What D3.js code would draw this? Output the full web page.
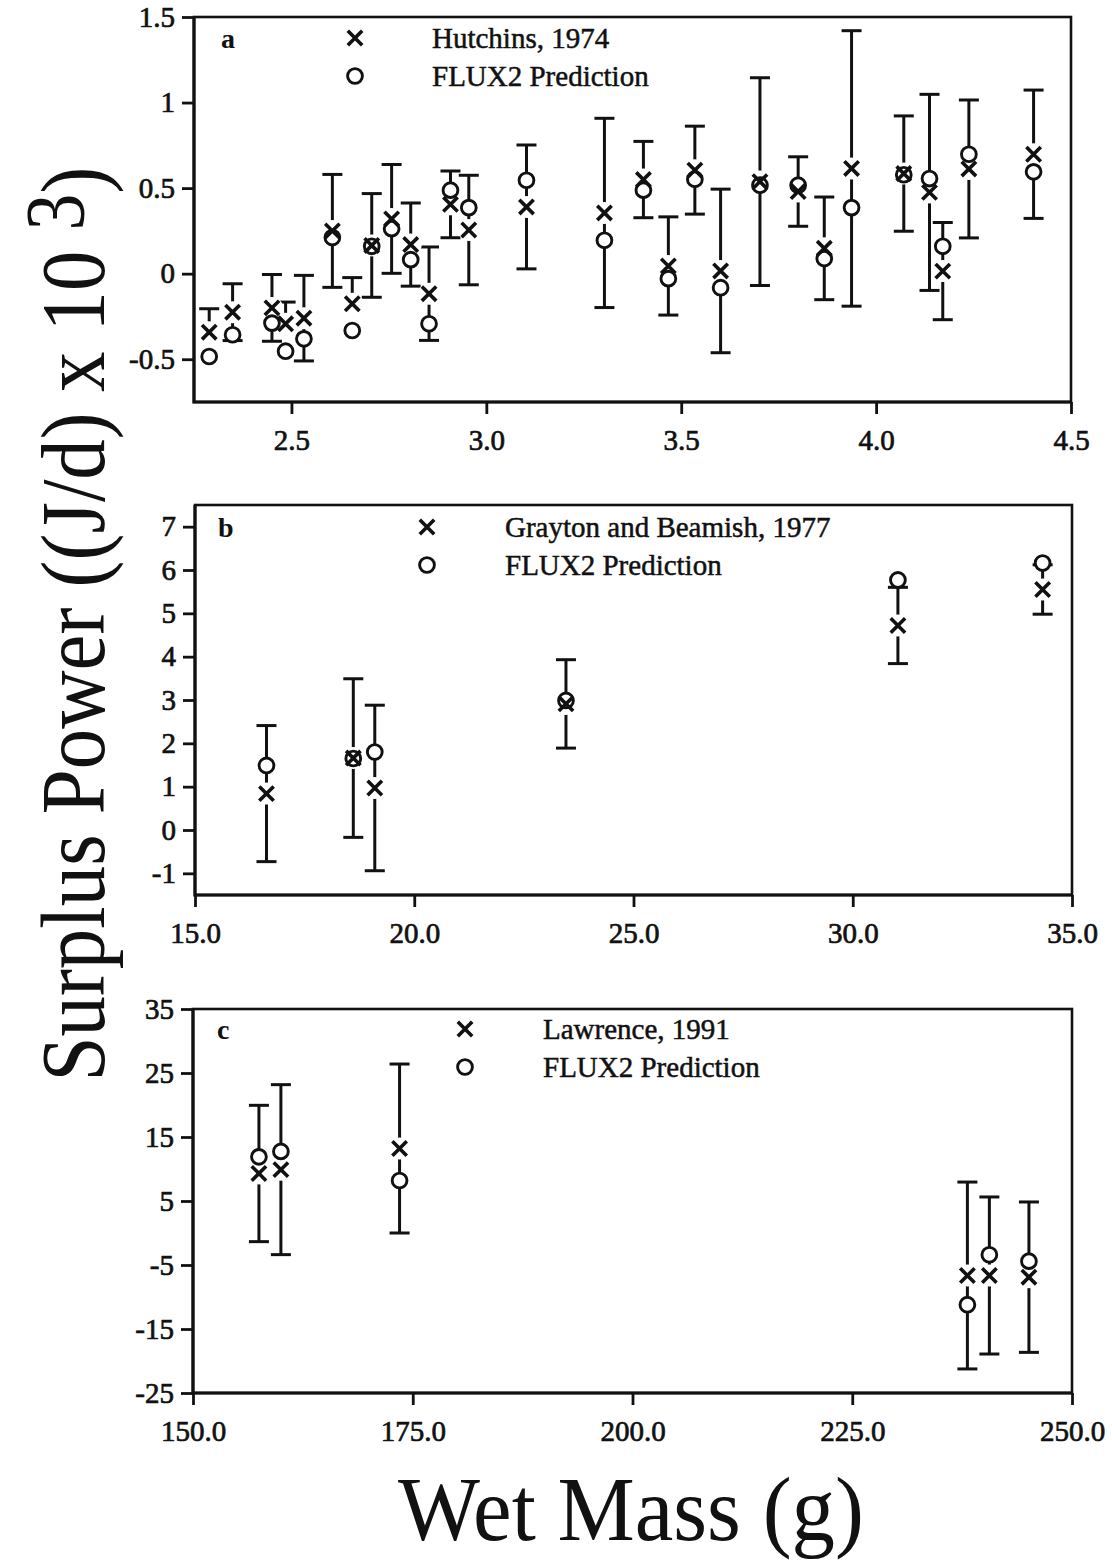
<!DOCTYPE html>
<html>
<head>
<meta charset="utf-8">
<script src="https://cdn.jsdelivr.net/npm/d3@7"></script>
<style>
  html, body { margin: 0; padding: 0; background: #fff; }
  svg { display: block; }
  text { font-family: "Liberation Serif", "Times New Roman", Times, serif; fill: #111; }
</style>
</head>
<body>
<svg id="fig" width="1112" height="1562"></svg>
<script>
// ---- Panel a: Hutchins, 1974 ----
const massA    = [2.289, 2.349, 2.450, 2.485, 2.532, 2.605, 2.656, 2.706, 2.757, 2.806, 2.853, 2.908, 2.955, 3.103,
                  3.303, 3.403, 3.467, 3.535, 3.601, 3.702, 3.800, 3.867, 3.937, 4.071, 4.137, 4.171, 4.238, 4.404];
const obsA     = [-0.342, -0.225, -0.200, -0.293, -0.260, 0.250, -0.176, 0.165, 0.320, 0.170, -0.117, 0.405, 0.255, 0.390,
                  0.355, 0.550, 0.045, 0.605, 0.016, 0.538, 0.480, 0.148, 0.615, 0.585, 0.475, 0.015, 0.612, 0.698];
const predA    = [-0.484, -0.357, -0.289, -0.453, -0.381, 0.211, -0.332, 0.160, 0.263, 0.082, -0.293, 0.488, 0.386, 0.546,
                  0.195, 0.488, -0.029, 0.552, -0.082, 0.517, 0.517, 0.088, 0.386, 0.578, 0.556, 0.160, 0.698, 0.595];
const errUpA   = [0.137, 0.166, 0.195, 0.127, 0.250, 0.330, 0.153, 0.303, 0.318, 0.243, 0.273, 0.195, 0.320, 0.362,
                  0.553, 0.223, 0.287, 0.257, 0.478, 0.607, 0.203, 0.300, 0.805, 0.337, 0.573, 0.284, 0.403, 0.375];
const errDownA = [0, 0.166, 0.195, 0, 0.250, 0.330, 0, 0.303, 0.318, 0.243, 0.273, 0.195, 0.320, 0.362,
                  0.553, 0.223, 0.287, 0.257, 0.478, 0.607, 0.203, 0.300, 0.805, 0.337, 0.573, 0.284, 0.403, 0.375];
const xTicksA  = [2.5, 3.0, 3.5, 4.0, 4.5];
const xLabelsA = ["2.5", "3.0", "3.5", "4.0", "4.5"];
const yTicksA  = [-0.5, 0, 0.5, 1, 1.5];
const yLabelsA = ["-0.5", "0", "0.5", "1", "1.5"];

// ---- Panel b: Grayton and Beamish, 1977 ----
const massB    = [16.63, 18.61, 19.10, 23.46, 31.03, 34.33];
const obsB     = [0.84, 1.66, 0.97, 2.91, 4.72, 5.55];
const predB    = [1.49, 1.65, 1.80, 2.99, 5.77, 6.16];
const errUpB   = [1.57, 1.83, 1.91, 1.02, 0.88, 0.57];
const errDownB = [1.57, 1.83, 1.91, 1.02, 0.88, 0.57];
const xTicksB  = [15, 20, 25, 30, 35];
const xLabelsB = ["15.0", "20.0", "25.0", "30.0", "35.0"];
const yTicksB  = [-1, 0, 1, 2, 3, 4, 5, 6, 7];
const yLabelsB = ["-1", "0", "1", "2", "3", "4", "5", "6", "7"];

// ---- Panel c: Lawrence, 1991 ----
const massC    = [157.5, 160.0, 173.5, 238.1, 240.6, 245.1];
const obsC     = [9.3, 9.9, 13.2, -6.64, -6.64, -6.9];
const predC    = [11.9, 12.75, 8.2, -11.2, -3.4, -4.4];
const errUpC   = [10.65, 13.28, 13.2, 14.6, 12.27, 11.75];
const errDownC = [10.65, 13.28, 13.2, 14.6, 12.27, 11.75];
const xTicksC  = [150, 175, 200, 225, 250];
const xLabelsC = ["150.0", "175.0", "200.0", "225.0", "250.0"];
const yTicksC  = [-25, -15, -5, 5, 15, 25, 35];
const yLabelsC = ["-25", "-15", "-5", "5", "15", "25", "35"];

const seriesNames = ["Hutchins, 1974", "Grayton and Beamish, 1977", "Lawrence, 1991"];
const predictionName = "FLUX2 Prediction";
const panelLetters = ["a", "b", "c"];

const svg = d3.select("#fig");
const INK = "#111";

const panels = [
  { letter: panelLetters[0], name: seriesNames[0], mass: massA, obs: obsA, pred: predA, up: errUpA, down: errDownA,
    xDomain: [2.25, 4.5], yDomain: [-0.75, 1.5], xTicks: xTicksA, xLabels: xLabelsA, yTicks: yTicksA, yLabels: yLabelsA,
    left: 194, right: 1071, top: 17, bottom: 402, legX: 355, legY: 38, textX: 432, letterX: 221 },
  { letter: panelLetters[1], name: seriesNames[1], mass: massB, obs: obsB, pred: predB, up: errUpB, down: errDownB,
    xDomain: [15, 35], yDomain: [-1.5, 7.5], xTicks: xTicksB, xLabels: xLabelsB, yTicks: yTicksB, yLabels: yLabelsB,
    left: 195, right: 1072, top: 505, bottom: 895, legX: 427, legY: 527, textX: 505, letterX: 218 },
  { letter: panelLetters[2], name: seriesNames[2], mass: massC, obs: obsC, pred: predC, up: errUpC, down: errDownC,
    xDomain: [150, 250], yDomain: [-25, 35], xTicks: xTicksC, xLabels: xLabelsC, yTicks: yTicksC, yLabels: yLabelsC,
    left: 193, right: 1072, top: 1009, bottom: 1393, legX: 465, legY: 1029, textX: 543, letterX: 217 }
];

const CAP = 10;      // half width of error-bar caps
const XS = 7.2;      // half size of the cross symbol
const CR = 7.4;      // radius of the circle symbol
const crossPath = `M${-XS},${-XS}L${XS},${XS}M${-XS},${XS}L${XS},${-XS}`;

function drawPanel(p) {
  const x = d3.scaleLinear().domain(p.xDomain).range([p.left, p.right]);
  const y = d3.scaleLinear().domain(p.yDomain).range([p.bottom, p.top]);
  const g = svg.append("g");

  // axes
  const xAxis = d3.axisBottom(x).tickValues(p.xTicks).tickFormat((d, i) => p.xLabels[i])
    .tickSize(12).tickPadding(15).tickSizeOuter(0);
  const yAxis = d3.axisLeft(y).tickValues(p.yTicks).tickFormat((d, i) => p.yLabels[i])
    .tickSize(12).tickPadding(7).tickSizeOuter(0);
  const gx = g.append("g").attr("transform", `translate(0,${p.bottom})`).call(xAxis);
  const gy = g.append("g").attr("transform", `translate(${p.left},0)`).call(yAxis);
  [gx, gy].forEach(a => {
    a.select(".domain").remove();
    a.selectAll(".tick line").attr("stroke", INK).attr("stroke-width", 2.8);
    a.selectAll(".tick text").attr("fill", INK).attr("font-size", 29)
      .attr("font-family", "'Liberation Serif','Times New Roman',serif")
      .attr("stroke", INK).attr("stroke-width", 0.7);
  });

  // frame
  g.append("rect").attr("x", p.left).attr("y", p.top)
    .attr("width", p.right - p.left).attr("height", p.bottom - p.top)
    .attr("fill", "none").attr("stroke", INK).attr("stroke-width", 2.6);
  g.append("path").attr("d", `M${p.left},${p.top}V${p.bottom}H${p.right}`)
    .attr("fill", "none").attr("stroke", INK).attr("stroke-width", 3.2);

  const pts = p.mass.map((m, i) => ({ m, obs: p.obs[i], pred: p.pred[i], up: p.up[i], down: p.down[i] }));

  // error bars about the observed values
  const bars = g.append("g").attr("stroke", INK).attr("stroke-width", 3).attr("fill", "none");
  pts.forEach(d => {
    const cx = x(d.m);
    if (d.up > 0) {
      bars.append("line").attr("x1", cx).attr("x2", cx).attr("y1", y(d.obs)).attr("y2", y(d.obs + d.up));
      bars.append("line").attr("x1", cx - CAP).attr("x2", cx + CAP).attr("y1", y(d.obs + d.up)).attr("y2", y(d.obs + d.up));
    }
    if (d.down > 0) {
      bars.append("line").attr("x1", cx).attr("x2", cx).attr("y1", y(d.obs)).attr("y2", y(d.obs - d.down));
      bars.append("line").attr("x1", cx - CAP).attr("x2", cx + CAP).attr("y1", y(d.obs - d.down)).attr("y2", y(d.obs - d.down));
    }
  });

  // white backgrounds behind the symbols
  g.append("g").selectAll("circle").data(pts).join("circle")
    .attr("cx", d => x(d.m)).attr("cy", d => y(d.obs)).attr("r", 11).attr("fill", "#fff");
  g.append("g").selectAll("circle").data(pts).join("circle")
    .attr("cx", d => x(d.m)).attr("cy", d => y(d.pred)).attr("r", CR).attr("fill", "#fff");

  // observed (cross) and predicted (circle) symbols
  g.append("g").selectAll("path").data(pts).join("path")
    .attr("d", crossPath).attr("transform", d => `translate(${x(d.m)},${y(d.obs)})`)
    .attr("stroke", INK).attr("stroke-width", 3.6).attr("fill", "none");
  g.append("g").selectAll("circle").data(pts).join("circle")
    .attr("cx", d => x(d.m)).attr("cy", d => y(d.pred)).attr("r", CR)
    .attr("stroke", INK).attr("stroke-width", 2.9).attr("fill", "none");

  // legend
  const lg = g.append("g");
  lg.append("path").attr("d", crossPath).attr("transform", `translate(${p.legX},${p.legY})`)
    .attr("stroke", INK).attr("stroke-width", 3.6).attr("fill", "none");
  lg.append("circle").attr("cx", p.legX).attr("cy", p.legY + 38).attr("r", CR)
    .attr("stroke", INK).attr("stroke-width", 2.9).attr("fill", "none");
  lg.append("text").attr("x", p.textX).attr("y", p.legY + 10).attr("font-size", 29)
    .attr("stroke", INK).attr("stroke-width", 0.5).text(p.name);
  lg.append("text").attr("x", p.textX).attr("y", p.legY + 48).attr("font-size", 29)
    .attr("stroke", INK).attr("stroke-width", 0.5).text(predictionName);

  // panel letter
  g.append("text").attr("x", p.letterX).attr("y", p.legY + 10).attr("font-size", 28)
    .attr("font-weight", "bold").text(p.letter);
}

panels.forEach(drawPanel);

// shared axis titles (set slightly condensed along the reading direction)
const yTitle = svg.append("text").attr("font-size", 92).attr("text-anchor", "middle");
yTitle.append("tspan").text("Surplus Power ((J/d) x 10 ");
yTitle.append("tspan").attr("font-size", 84).attr("dy", -20).text("3");
yTitle.append("tspan").attr("dy", 20).text(")");
const yLen = yTitle.node().getComputedTextLength();
yTitle.attr("transform", `translate(104,624) rotate(-90) scale(${915 / yLen},1)`);

const xTitle = svg.append("text").attr("font-size", 92).attr("text-anchor", "middle").text("Wet Mass (g)");
const xLen = xTitle.node().getComputedTextLength();
xTitle.attr("transform", `translate(631,1540) scale(${466 / xLen},1)`);
</script>
</body>
</html>
